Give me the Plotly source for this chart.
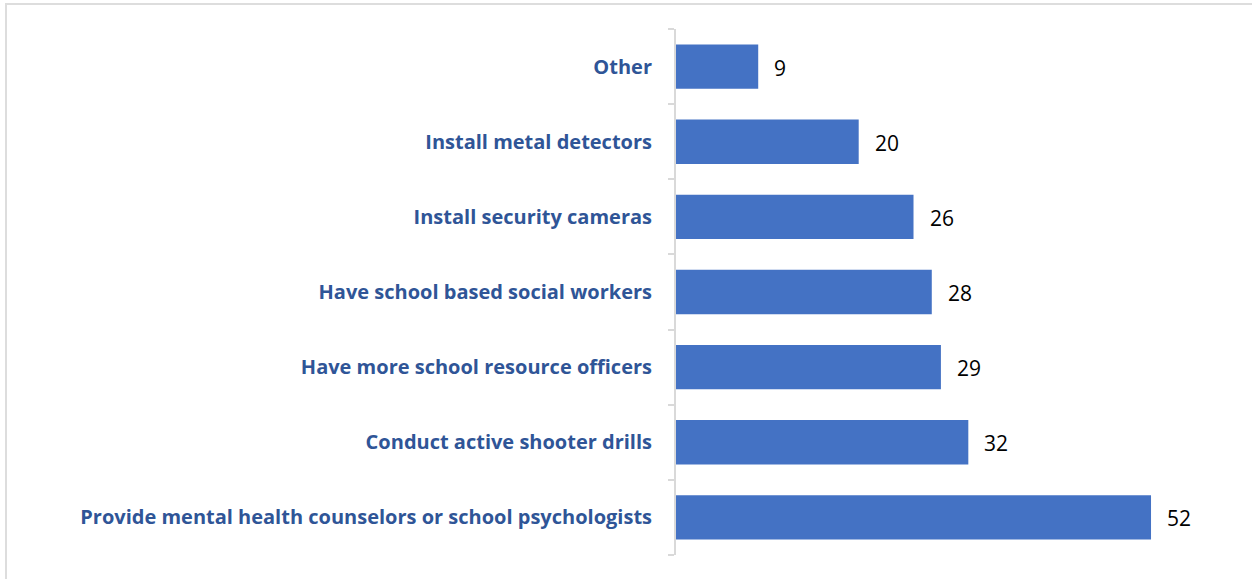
import plotly.graph_objects as go

categories = [
    "Provide mental health counselors or school psychologists",
    "Conduct active shooter drills",
    "Have more school resource officers",
    "Have school based social workers",
    "Install security cameras",
    "Install metal detectors",
    "Other",
]
values = [52, 32, 29, 28, 26, 20, 9]

W, H = 1252, 579
ML, MR, MT, MB = 676, 28, 29, 24
plot_w = W - ML - MR
plot_h = H - MT - MB

fig = go.Figure(
    go.Bar(
        x=values,
        y=categories,
        orientation="h",
        marker=dict(color="#4472C4", line=dict(width=0)),
        width=0.59,
        hoverinfo="skip",
    )
)

# value labels to the right of each bar
for c, v in zip(categories, values):
    fig.add_annotation(
        x=v, y=c, text=str(v), showarrow=False,
        xanchor="left", xshift=14, yshift=-1,
        font=dict(family="Open Sans, Liberation Sans, sans-serif", size=21, color="#000000"),
    )

# light frame around the chart area
def px_x(p):
    return (p - ML) / plot_w

def px_y(p):
    return 1 - (p - MT) / plot_h

fig.add_shape(
    type="rect", xref="paper", yref="paper",
    x0=px_x(6), x1=px_x(1270), y0=px_y(4), y1=px_y(600),
    line=dict(color="#DDDDDD", width=2), layer="below",
)

fig.update_layout(
    width=W, height=H,
    margin=dict(l=ML, r=MR, t=MT, b=MB),
    plot_bgcolor="white", paper_bgcolor="white",
    showlegend=False,
    xaxis=dict(range=[0, plot_w / 9.135], visible=False, fixedrange=True),
    yaxis=dict(
        type="category",
        range=[-0.5, len(categories) - 0.5],
        showline=True, linecolor="#D9D9D9", linewidth=2,
        showgrid=False, zeroline=False,
        ticks="outside", ticklen=6, tickcolor="#D9D9D9", tickwidth=2,
        tickson="boundaries",
        ticklabelstandoff=18,
        tickfont=dict(family="Open Sans, Liberation Sans, sans-serif", size=20, color="#2F5597", weight="bold"),
        fixedrange=True,
    ),
)

fig.write_html("out.html")
